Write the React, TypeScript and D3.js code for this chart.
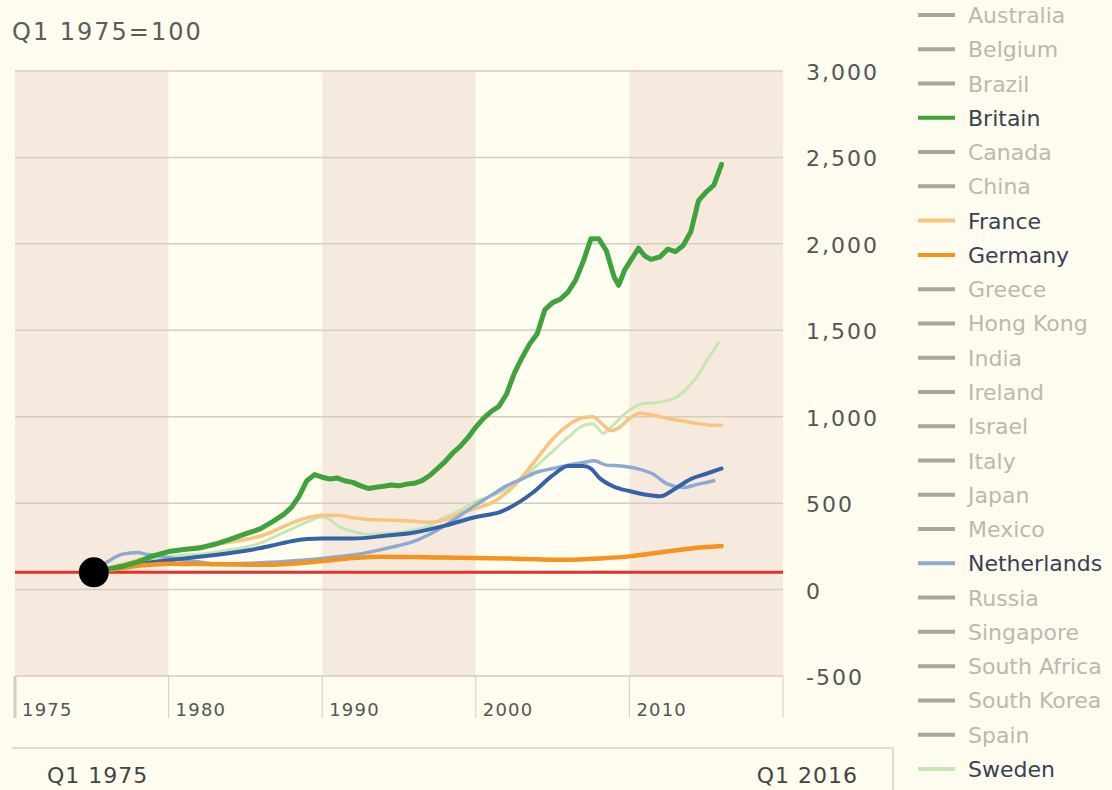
import React from 'react';
import * as d3 from 'd3';

// house prices, Q1 1975 = 100 as [year, index]
const britain: [number, number][] = [
  [1975, 100], [1976, 118], [1977, 135], [1978, 160], [1979, 195], [1980, 220], [1981, 232],
  [1982, 240], [1983, 262], [1984, 290], [1985, 322], [1986, 352], [1986.8, 395], [1987.5, 435],
  [1988, 475], [1988.5, 540], [1989, 630], [1989.5, 665], [1990, 650], [1990.5, 640], [1991, 645],
  [1991.5, 628], [1992, 620], [1992.5, 600], [1993, 585], [1993.5, 592], [1994, 598], [1994.5, 605],
  [1995, 600], [1995.5, 610], [1996, 615], [1996.5, 630], [1997, 660], [1997.5, 700], [1998, 740],
  [1998.5, 790], [1999, 830], [1999.5, 880], [2000, 940], [2000.5, 990], [2001, 1030], [2001.5, 1060],
  [2002, 1130], [2002.5, 1250], [2003, 1340], [2003.5, 1420], [2004, 1480], [2004.5, 1620],
  [2005, 1660], [2005.5, 1680], [2006, 1720], [2006.5, 1790], [2007, 1900], [2007.5, 2030],
  [2008, 2030], [2008.5, 1960], [2009, 1810], [2009.3, 1760], [2009.7, 1850], [2010.2, 1920],
  [2010.6, 1975], [2011, 1930], [2011.4, 1910], [2012, 1925], [2012.5, 1970], [2013, 1955],
  [2013.5, 1990], [2014, 2070], [2014.5, 2250], [2015, 2300], [2015.5, 2340], [2016, 2460],
];

const germany: [number, number][] = [
  [1975, 100], [1976, 112], [1977, 125], [1978, 138], [1979, 145], [1980, 150], [1982, 148],
  [1984, 145], [1986, 143], [1988, 150], [1990, 165], [1992, 182], [1994, 190], [1996, 188],
  [1998, 185], [2000, 182], [2002, 180], [2004, 175], [2006, 172], [2008, 180], [2010, 192],
  [2012, 215], [2014, 238], [2016, 252],
];

const france: [number, number][] = [
  [1975, 100], [1976, 120], [1977, 145], [1978, 170], [1979, 195], [1980, 215], [1981, 235],
  [1982, 250], [1983, 262], [1984, 275], [1985, 290], [1986, 310], [1987, 345], [1988, 385],
  [1989, 415], [1990, 430], [1991, 430], [1992, 415], [1993, 405], [1994, 402], [1995, 400],
  [1996, 395], [1997, 390], [1998, 405], [1999, 440], [2000, 470], [2001, 500], [2002, 560],
  [2003, 650], [2004, 760], [2005, 870], [2006, 950], [2007, 995], [2007.6, 1000], [2008.2, 960],
  [2008.8, 920], [2009.3, 935], [2010, 990], [2010.7, 1020], [2011.5, 1010], [2012.5, 990],
  [2013.5, 975], [2014.5, 960], [2015.5, 950], [2016, 950],
];

const sweden: [number, number][] = [
  [1975, 100], [1976, 125], [1977, 150], [1978, 165], [1979, 178], [1980, 190], [1981, 200],
  [1982, 205], [1983, 215], [1984, 230], [1985, 245], [1986, 270], [1987, 310], [1988, 350],
  [1989, 390], [1990, 420], [1990.5, 405], [1991, 370], [1992, 335], [1993, 320], [1994, 325],
  [1995, 330], [1996, 345], [1997, 370], [1998, 420], [1999, 460], [2000, 510], [2001, 540],
  [2002, 580], [2003, 640], [2004, 720], [2005, 800], [2006, 880], [2007, 950], [2007.6, 960],
  [2008.3, 905], [2008.8, 940], [2009.5, 1000], [2010.2, 1050], [2010.8, 1075], [2011.5, 1080],
  [2012.3, 1090], [2013, 1110], [2013.7, 1160], [2014.3, 1220], [2014.8, 1290], [2015.3, 1360],
  [2015.8, 1430],
];

const netherlands: [number, number][] = [
  [1975, 100], [1976, 160], [1977, 205], [1978, 215], [1978.5, 205], [1979, 200], [1980, 185],
  [1981, 170], [1982, 160], [1983, 150], [1984, 150], [1985, 152], [1986, 155], [1987, 160],
  [1988, 165], [1989, 172], [1990, 180], [1991, 190], [1992, 200], [1993, 215], [1994, 235],
  [1995, 255], [1996, 280], [1997, 320], [1998, 370], [1999, 430], [2000, 490], [2001, 545],
  [2002, 600], [2003, 640], [2004, 680], [2005, 700], [2006, 720], [2007, 735], [2007.7, 745],
  [2008.5, 720], [2009.5, 715], [2010.5, 700], [2011.5, 670], [2012.5, 610], [2013.5, 590],
  [2014.5, 610], [2015.5, 630],
];

// dark blue line, its legend entry falls below the visible part of the list
const unitedStates: [number, number][] = [
  [1975, 100], [1976, 115], [1977, 130], [1978, 145], [1979, 160], [1980, 170], [1981, 180],
  [1982, 190], [1983, 200], [1984, 212], [1985, 225], [1986, 240], [1987, 260], [1988, 280],
  [1989, 292], [1990, 295], [1992, 295], [1994, 310], [1996, 330], [1998, 370], [2000, 420],
  [2001.6, 450], [2003.7, 560], [2005, 660], [2006, 715], [2007, 715], [2007.5, 700], [2008, 650],
  [2009, 595], [2010, 570], [2011, 550], [2012, 540], [2013, 585], [2014, 640], [2015, 670],
  [2016, 700],
];

const countries = [
  'Australia', 'Belgium', 'Brazil', 'Britain', 'Canada', 'China', 'France', 'Germany', 'Greece',
  'Hong Kong', 'India', 'Ireland', 'Israel', 'Italy', 'Japan', 'Mexico', 'Netherlands', 'Russia',
  'Singapore', 'South Africa', 'South Korea', 'Spain', 'Sweden',
];

const yTicks = [-500, 0, 500, 1000, 1500, 2000, 2500, 3000];
const bandYears = [1970, 1980, 1990, 2000, 2010, 2020];
const bandLabels = ['1975', '1980', '1990', '2000', '2010'];

const series = [
  { name: 'Sweden', data: sweden, color: '#c6e7b2', w: 3, curve: d3.curveMonotoneX },
  { name: 'France', data: france, color: '#f9c47d', w: 3.5, curve: d3.curveMonotoneX },
  { name: 'Netherlands', data: netherlands, color: '#8eaad2', w: 3.5, curve: d3.curveMonotoneX },
  { name: 'United States', data: unitedStates, color: '#3463a8', w: 4, curve: d3.curveMonotoneX },
  { name: 'Germany', data: germany, color: '#f6921e', w: 4.5, curve: d3.curveMonotoneX },
  { name: 'Britain', data: britain, color: '#3ea33a', w: 5, curve: d3.curveLinear },
];

const W = 1112;
const H = 790;
const font = '"DejaVu Sans", Verdana, sans-serif';
const fmt = (v: number) => d3.format(',')(v).replace('\u2212', '-');

export default function App() {
  const x = d3.scaleLinear().domain([1970, 2020]).range([15, 783]);
  const y = d3.scaleLinear().domain([-500, 3000]).range([676, 71]);
  const colorOf: Record<string, string> = {};
  series.forEach(s => (colorOf[s.name] = s.color));

  return (
    <div style={{ position: 'absolute', left: 0, top: 0 }}>
      <svg width={W} height={H} style={{ display: 'block', background: '#fdfcef' }}>
        <text x={12} y={40} fontFamily={font} fontSize={24} fill="#5c5c5c" letterSpacing={2}>Q1 1975=100</text>

        {bandYears.slice(0, -1).map((yr, i) => (
          <rect key={yr} x={x(yr)} y={y(3000)} width={x(bandYears[i + 1]) - x(yr)} height={y(-500) - y(3000)}
            fill={i % 2 === 0 ? '#f6eadf' : '#fefdf0'} />
        ))}
        {yTicks.map(t => (
          <g key={t}>
            <line x1={15} x2={783} y1={y(t)} y2={y(t)} stroke="#d6cdc2" strokeWidth={1.5} />
            <text x={806} y={y(t) + 9} fontFamily={font} fontSize={22} fill="#555" letterSpacing={2}>
              {fmt(t)}
            </text>
          </g>
        ))}

        {bandYears.map(yr => (
          <line key={yr} x1={x(yr)} x2={x(yr)} y1={676} y2={718} stroke="#d3cec3" strokeWidth={yr === 1970 ? 3 : 1} />
        ))}
        {bandLabels.map((l, i) => (
          <text key={l} x={x(bandYears[i]) + 7} y={716} fontFamily={font} fontSize={18} fill="#555" letterSpacing={1.2}>{l}</text>
        ))}

        <line x1={12} x2={893} y1={748} y2={748} stroke="#d8d2c6" strokeWidth={1.5} />
        <line x1={893} x2={893} y1={748} y2={790} stroke="#d8d2c6" strokeWidth={1.5} />
        <text x={47} y={783} fontFamily={font} fontSize={22} fill="#444" letterSpacing={1}>Q1 1975</text>
        <text x={858} y={783} fontFamily={font} fontSize={22} fill="#444" letterSpacing={1} textAnchor="end">Q1 2016</text>

        <line x1={15} x2={783} y1={y(100)} y2={y(100)} stroke="#e3302b" strokeWidth={3} />

        {series.map(s => {
          const line = d3.line<[number, number]>().x(d => x(d[0])).y(d => y(d[1])).curve(s.curve);
          return <path key={s.name} d={line(s.data) || ''} fill="none" stroke={s.color} strokeWidth={s.w}
            strokeLinejoin="round" strokeLinecap="round" />;
        })}

        <circle cx={x(1975) + 2} cy={y(100)} r={15} fill="#000" />

        {countries.map((c, i) => {
          const cy = 15 + i * 34.27;
          const col = colorOf[c];
          return (
            <g key={c}>
              <line x1={918} x2={955} y1={cy} y2={cy} stroke={col || '#aca697'} strokeWidth={4} />
              <text x={968} y={cy + 8} fontFamily={font} fontSize={22} fill={col ? '#3a4152' : '#bdb8ad'}>{c}</text>
            </g>
          );
        })}
      </svg>
    </div>
  );
}
